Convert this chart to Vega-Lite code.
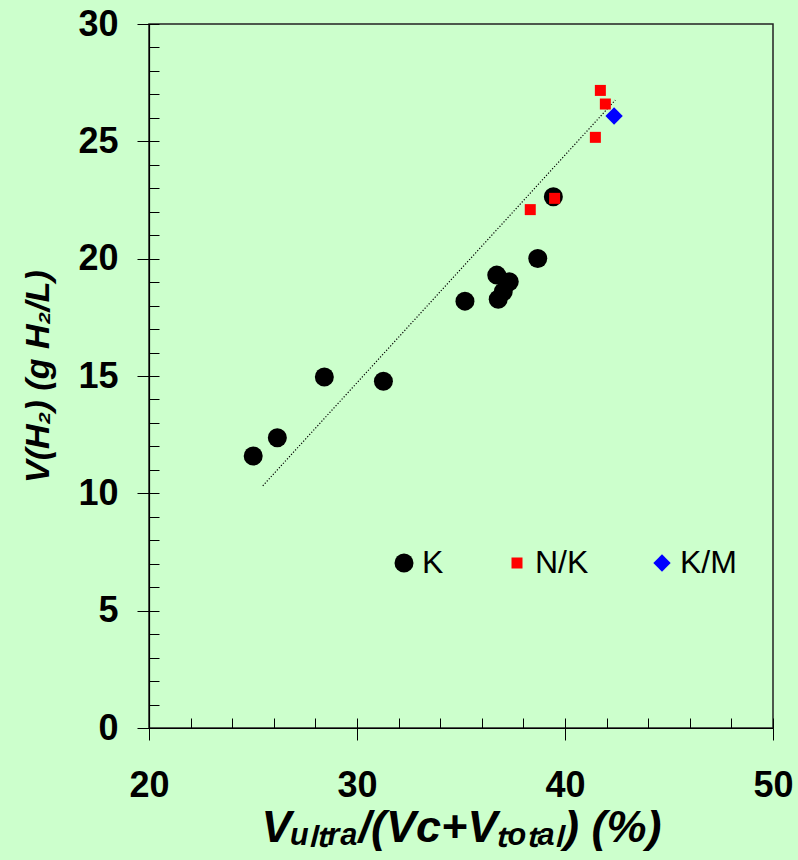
{
  "$schema": "https://vega.github.io/schema/vega-lite/v6.json",
  "width": 624,
  "height": 704,
  "autosize": {"type": "none"},
  "padding": {"left": 149, "top": 24, "right": 25, "bottom": 132},
  "background": "#ccffcc",
  "config": {
    "view": {"stroke": "#222222", "strokeWidth": 1.5, "fill": "#ccffcc"},
    "font": "Liberation Sans"
  },
  "datasets": {
    "points": [
      {"x": 25.01, "y": 11.59, "series": "K"},
      {"x": 26.17, "y": 12.37, "series": "K"},
      {"x": 28.43, "y": 14.96, "series": "K"},
      {"x": 31.27, "y": 14.78, "series": "K"},
      {"x": 35.19, "y": 18.19, "series": "K"},
      {"x": 36.72, "y": 19.30, "series": "K"},
      {"x": 37.32, "y": 19.02, "series": "K"},
      {"x": 37.03, "y": 18.59, "series": "K"},
      {"x": 36.79, "y": 18.27, "series": "K"},
      {"x": 38.69, "y": 20.01, "series": "K"},
      {"x": 39.44, "y": 22.64, "series": "K"},
      {"x": 41.70, "y": 27.17, "series": "N/K"},
      {"x": 41.94, "y": 26.59, "series": "N/K"},
      {"x": 41.46, "y": 25.17, "series": "N/K"},
      {"x": 39.50, "y": 22.57, "series": "N/K"},
      {"x": 38.33, "y": 22.09, "series": "N/K"},
      {"x": 42.36, "y": 26.08, "series": "K/M"}
    ],
    "trend": [
      {"x": 25.47, "y": 10.32},
      {"x": 42.42, "y": 26.76}
    ]
  },
  "layer": [
    {
      "data": {"name": "trend"},
      "mark": {"type": "line", "color": "black", "strokeWidth": 1.2, "strokeDash": [1.2, 1.8]},
      "encoding": {
        "x": {
          "field": "x", "type": "quantitative",
          "scale": {"domain": [20, 50], "nice": false, "zero": false},
          "axis": {"orient": "bottom", "values": [20,22,24,26,28,30,32,34,36,38,40,42,44,46,48,50], "tickSize": -10, "tickColor": "black", "tickWidth": 1, "labels": false, "domain": false, "title": null, "grid": false}
        },
        "y": {
          "field": "y", "type": "quantitative",
          "scale": {"domain": [0, 30], "nice": false, "zero": false},
          "axis": {"orient": "left", "values": [0,1,2,3,4,5,6,7,8,9,10,11,12,13,14,15,16,17,18,19,20,21,22,23,24,25,26,27,28,29,30], "tickSize": -10, "tickColor": "black", "tickWidth": 1, "labels": false, "domain": false, "title": null, "grid": false}
        }
      }
    },
    {
      "data": {"name": "points"},
      "mark": {"type": "point", "filled": true, "opacity": 1, "strokeWidth": 0},
      "encoding": {
        "x": {
          "field": "x", "type": "quantitative",
          "scale": {"domain": [20, 50], "nice": false, "zero": false},
          "axis": {"orient": "bottom", "values": [20, 30, 40, 50], "tickSize": 12, "tickColor": "black", "tickWidth": 1, "domainColor": "black", "domainWidth": 1.2, "labelFontSize": 36, "labelFontWeight": "bold", "labelColor": "black", "labelPadding": 28, "labelFlush": false, "labelOverlap": false, "grid": false, "title": "Vᵤₗₜᵣₐ/(Vc+Vₜₒₜₐₗ) (%)", "titleFontSize": 45, "titleFontWeight": "bold", "titleFontStyle": "italic", "titleColor": "black", "titlePadding": 2}
        },
        "y": {
          "field": "y", "type": "quantitative",
          "scale": {"domain": [0, 30], "nice": false, "zero": false},
          "axis": {"orient": "left", "values": [0, 5, 10, 15, 20, 25, 30], "tickSize": 12, "tickColor": "black", "tickWidth": 1, "domainColor": "black", "domainWidth": 1.2, "labelFontSize": 36, "labelFontWeight": "bold", "labelColor": "black", "labelPadding": 19, "labelOverlap": false, "grid": false, "title": "V(H₂) (g H₂/L)", "titleFontSize": 34, "titleFontWeight": "bold", "titleFontStyle": "italic", "titleColor": "black", "titlePadding": 22}
        },
        "color": {
          "field": "series", "type": "nominal",
          "scale": {"domain": ["K", "N/K", "K/M"], "range": ["#000000", "#ff0000", "#0000ff"]},
          "legend": {"orient": "none", "legendX": 239, "legendY": 523, "direction": "horizontal", "columns": 3, "columnPadding": 57, "title": null, "labelFontSize": 32, "labelColor": "black", "labelOffset": 2, "padding": 0, "symbolStrokeWidth": 0, "symbolOpacity": 1}
        },
        "shape": {
          "field": "series", "type": "nominal",
          "scale": {"domain": ["K", "N/K", "K/M"], "range": ["circle", "square", "diamond"]}
        },
        "size": {
          "field": "series", "type": "nominal",
          "scale": {"type": "ordinal", "domain": ["K", "N/K", "K/M"], "range": [361, 121, 300]}
        }
      }
    }
  ],
  "resolve": {"axis": {"x": "independent", "y": "independent"}}
}
